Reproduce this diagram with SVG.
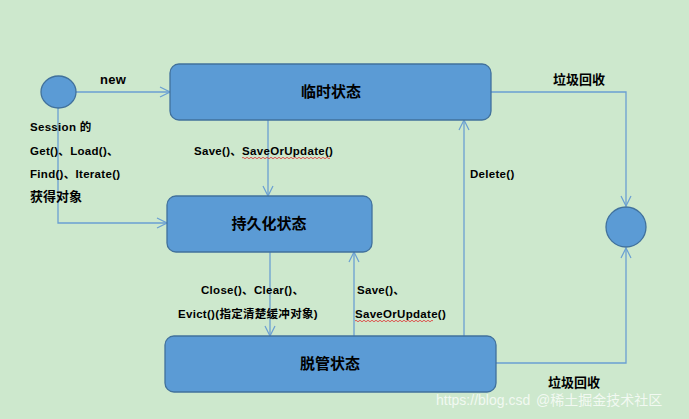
<svg xmlns="http://www.w3.org/2000/svg" width="689" height="419" viewBox="0 0 689 419">
<style>
.node{fill:#5b9bd5;stroke:#41719c;stroke-width:1.3}
.title{font-family:"Liberation Sans","Noto Sans CJK SC",sans-serif;font-size:15px;font-weight:bold;fill:#000;text-anchor:middle}
.lbl{font-family:"Liberation Sans","Noto Sans CJK SC",sans-serif;font-size:11.5px;font-weight:bold;fill:#000;letter-spacing:0.3px}
.cjk{font-size:13px;letter-spacing:0}
.edge{fill:none;stroke:#6a9fd2;stroke-width:1.3}
.wavy{fill:none;stroke:#e03030;stroke-width:0.8}
.wm{font-family:"Liberation Sans","Noto Sans CJK SC",sans-serif;font-size:14px;fill:#ffffff;fill-opacity:0.75}
</style>
<defs>
<marker id="arr" viewBox="0 0 12 12" refX="11" refY="6" markerWidth="12" markerHeight="12" markerUnits="userSpaceOnUse" orient="auto">
<path d="M1,1 L11,6 L1,11" fill="none" stroke="#6a9fd2" stroke-width="1.2"/>
</marker>
</defs>
<rect width="689" height="419" fill="#cde8cd"/>
<g id="connectors">
<path class="edge" d="M76,92 H170" marker-end="url(#arr)"/>
<path class="edge" d="M58,108 V223 H167" marker-end="url(#arr)"/>
<path class="edge" d="M268,120 V196" marker-end="url(#arr)"/>
<path class="edge" d="M270,252 V336" marker-end="url(#arr)"/>
<path class="edge" d="M354,336 V252" marker-end="url(#arr)"/>
<path class="edge" d="M464,336 V120" marker-end="url(#arr)"/>
<path class="edge" d="M491,92 H626 V206" marker-end="url(#arr)"/>
<path class="edge" d="M496,363 H626 V248" marker-end="url(#arr)"/>
</g>
<g id="start"><ellipse class="node" cx="58.5" cy="92" rx="17.5" ry="16"/></g>
<g id="end"><circle class="node" cx="626" cy="227" r="20"/></g>
<g id="transient"><rect class="node" x="170" y="64" width="321" height="56" rx="9"/><text class="title" x="331" y="97">临时状态</text></g>
<g id="persistent"><rect class="node" x="167" y="196" width="205" height="56" rx="9"/><text class="title" x="269" y="229">持久化状态</text></g>
<g id="detached"><rect class="node" x="165" y="336" width="331" height="56" rx="9"/><text class="title" x="330" y="369">脱管状态</text></g>
<g id="labels">
<text class="lbl" x="100" y="84" style="font-size:13px">new</text>
<text class="lbl" x="30" y="131">Session 的</text>
<text class="lbl" x="30" y="155">Get()、Load()、</text>
<text class="lbl" x="30" y="178">Find()、Iterate()</text>
<text class="lbl cjk" x="30" y="201">获得对象</text>
<text class="lbl" x="194" y="155">Save()、SaveOrUpdate()</text>
<text class="lbl" x="470" y="178">Delete()</text>
<text class="lbl cjk" x="553" y="84">垃圾回收</text>
<text class="lbl" x="201" y="294">Close()、Clear()、</text>
<text class="lbl" x="178" y="318">Evict()(指定清楚缓冲对象)</text>
<text class="lbl" x="357" y="294">Save()、</text>
<text class="lbl" x="355" y="318">SaveOrUpdate()</text>
<text class="lbl cjk" x="548" y="387">垃圾回收</text>
</g>
<path class="wavy" d="M242,158 q1,-1.5 2,0 t2,0 t2,0 t2,0 t2,0 t2,0 t2,0 t2,0 t2,0 t2,0 t2,0 t2,0 t2,0 t2,0 t2,0 t2,0 t2,0 t2,0 t2,0 t2,0 t2,0 t2,0 t2,0 t2,0 t2,0 t2,0 t2,0 t2,0 t2,0 t2,0 t2,0 t2,0 t2,0 t2,0 t2,0 t2,0 t2,0 t2,0 t2,0 t2,0 t2,0 t2,0 t2,0 t2,0"/>
<path class="wavy" d="M355,321 q1,-1.5 2,0 t2,0 t2,0 t2,0 t2,0 t2,0 t2,0 t2,0 t2,0 t2,0 t2,0 t2,0 t2,0 t2,0 t2,0 t2,0 t2,0 t2,0 t2,0 t2,0 t2,0 t2,0 t2,0 t2,0 t2,0 t2,0 t2,0 t2,0 t2,0 t2,0 t2,0 t2,0 t2,0 t2,0 t2,0 t2,0 t2,0 t2,0 t2,0"/>
<text class="wm" x="436" y="405">https://blog.csd</text>
<text class="wm" x="536" y="405" fill="#f0f0f0">@稀土掘金技术社区</text>
</svg>
